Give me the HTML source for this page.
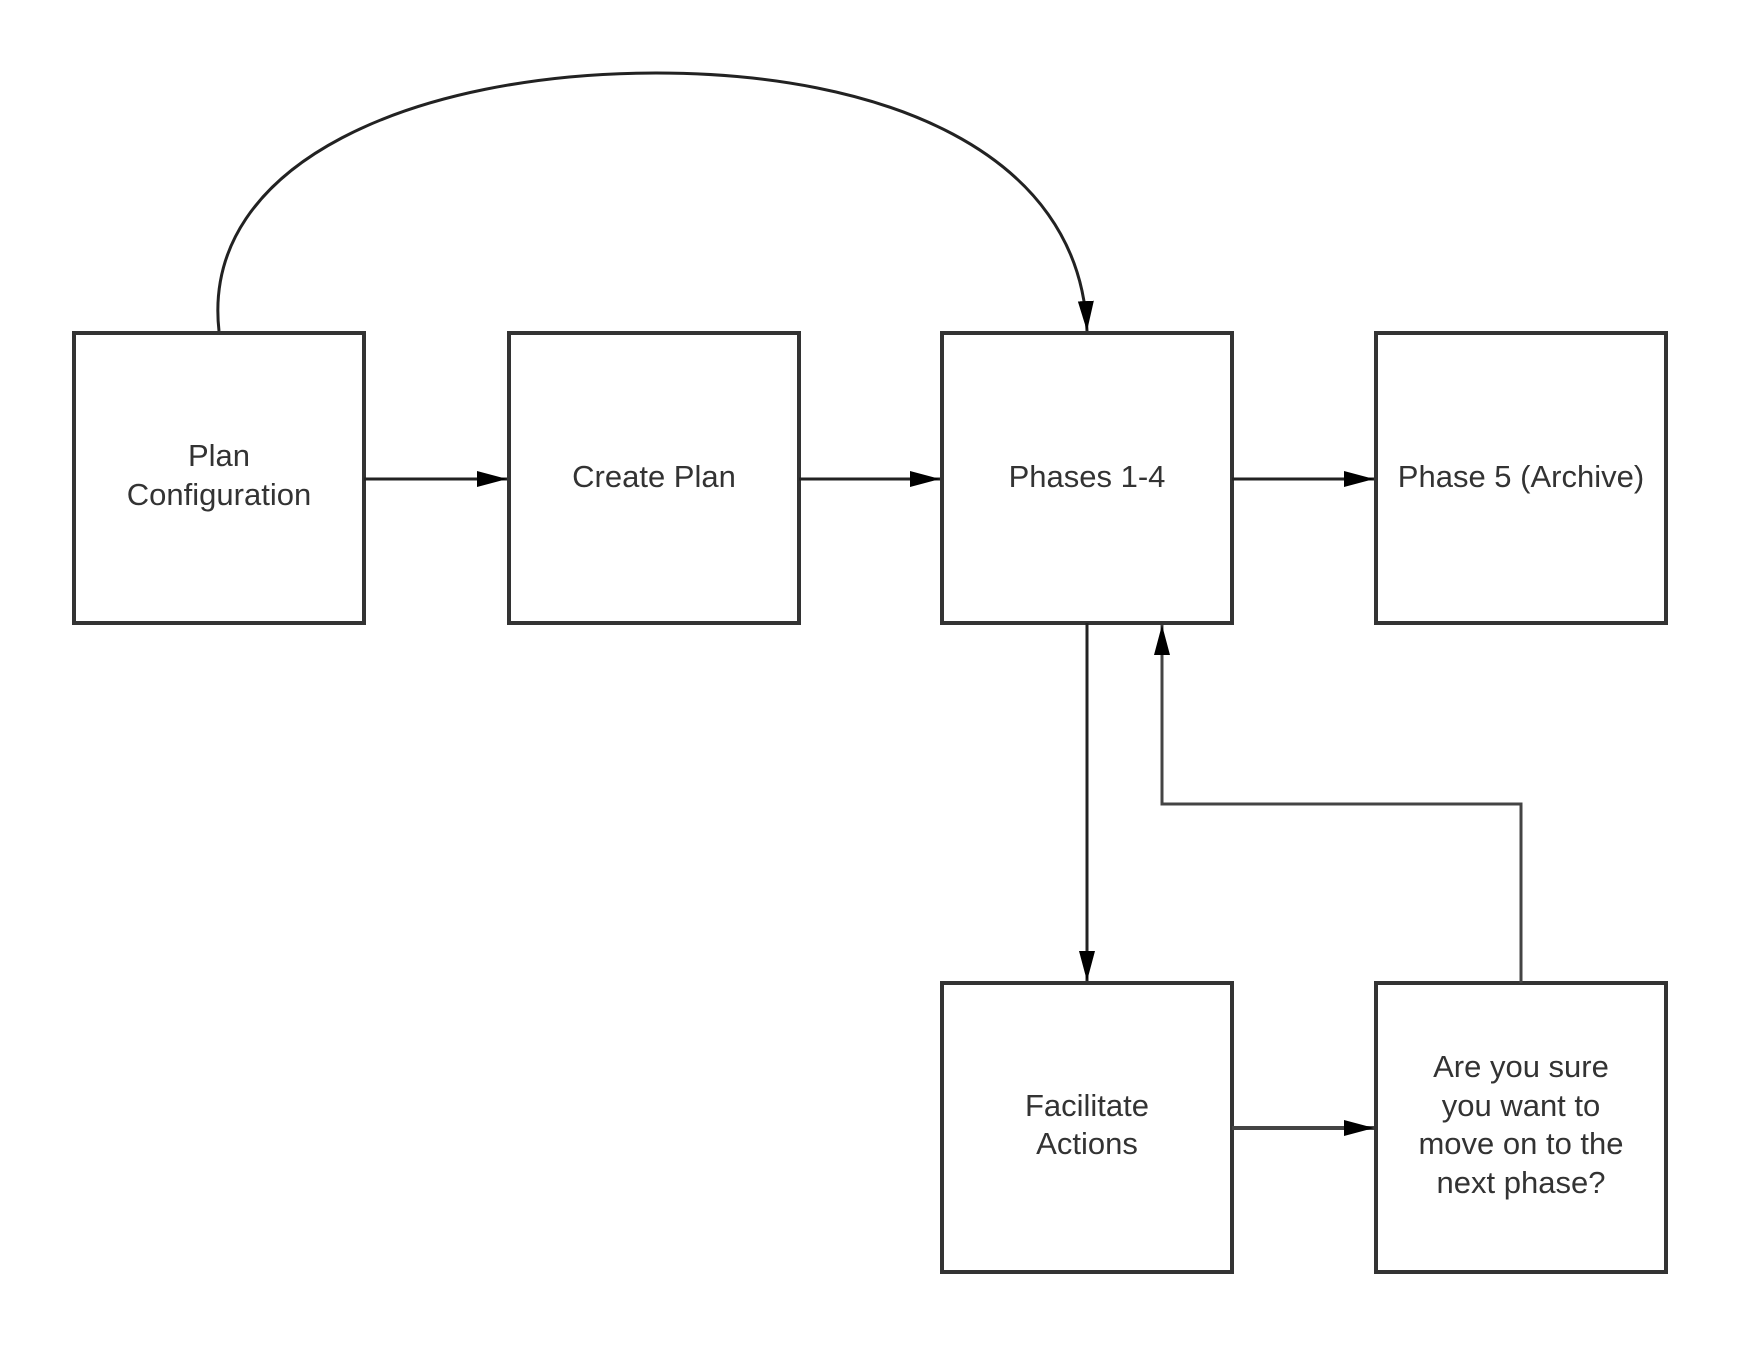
<!DOCTYPE html>
<html><head><style>
html,body{margin:0;padding:0;background:#fff;}
svg{display:block;}
text{font-family:"Liberation Sans",sans-serif;font-size:31px;fill:#333;text-anchor:middle;}
</style></head><body>
<svg width="1741" height="1351" viewBox="0 0 1741 1351">
<defs>
<marker id="b" viewBox="0 0 30 20" refX="30" refY="10" markerWidth="30" markerHeight="20" orient="auto" markerUnits="userSpaceOnUse"><path d="M0,2 L30,10 L0,18z" fill="#000"/></marker></defs>
<g fill="#fff" stroke="#333" stroke-width="4">
<rect x="74" y="333" width="290" height="290"/>
<rect x="509" y="333" width="290" height="290"/>
<rect x="942" y="333" width="290" height="290"/>
<rect x="1376" y="333" width="290" height="290"/>
<rect x="942" y="983" width="290" height="289"/>
<rect x="1376" y="983" width="290" height="289"/>
</g>
<g fill="none" stroke="#222" stroke-width="3">
<path d="M219,331 C200,160 420,73 656,73 C880,73 1080,150 1087,331" marker-end="url(#b)"/>
<line x1="364" y1="479" x2="507" y2="479" marker-end="url(#b)"/>
<line x1="799" y1="479" x2="940" y2="479" marker-end="url(#b)"/>
<line x1="1232" y1="479" x2="1374" y2="479" marker-end="url(#b)"/>
<line x1="1087" y1="623" x2="1087" y2="981" marker-end="url(#b)"/>
<line x1="1232" y1="1128" x2="1374" y2="1128" stroke="#444" stroke-width="4" marker-end="url(#b)"/>
<path d="M1521,983 L1521,804 L1162,804 L1162,625" stroke="#444" marker-end="url(#b)"/>
</g>
<text x="219" y="466">Plan</text>
<text x="219" y="505">Configuration</text>
<text x="654" y="487">Create Plan</text>
<text x="1087" y="487">Phases 1-4</text>
<text x="1521" y="487">Phase 5 (Archive)</text>
<text x="1087" y="1116">Facilitate</text>
<text x="1087" y="1154">Actions</text>
<text x="1521" y="1077">Are you sure</text>
<text x="1521" y="1116">you want to</text>
<text x="1521" y="1154">move on to the</text>
<text x="1521" y="1193">next phase?</text>
</svg>
</body></html>
